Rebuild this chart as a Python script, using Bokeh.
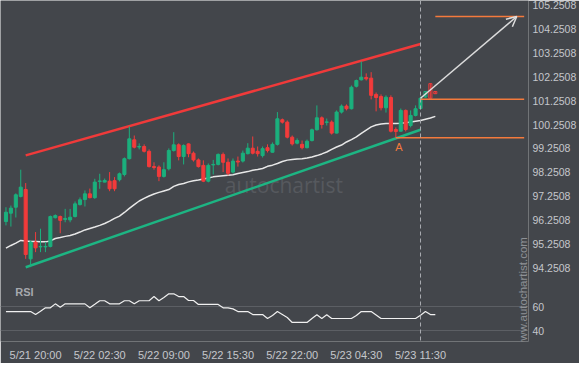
import math
from bokeh.plotting import figure
from bokeh.models import Range1d, FixedTicker, Span, Arrow, OpenHead
from bokeh.core.properties import value
from bokeh.embed import file_html
from bokeh.resources import INLINE

# ---------------- data ----------------
candle_open = [96.19, 96.54, 96.79, 97.24, 97.53, 94.63, 95.33, 95.13, 95.13, 95.15,
               96.35, 96.40, 96.28, 96.26, 96.40, 96.90, 97.11, 97.35, 97.19, 97.87,
               97.84, 97.88, 97.90, 97.94, 98.16, 98.82, 99.61, 99.31, 99.33, 99.13,
               98.49, 98.47, 98.08, 98.40, 99.16, 99.40, 98.91, 99.44, 99.05, 98.77,
               98.54, 97.88, 98.56, 98.58, 99.00, 98.67, 98.26, 98.72, 98.72, 99.03,
               99.26, 99.13, 98.95, 99.28, 99.09, 99.42, 100.45, 100.35, 99.72, 99.47,
               99.42, 99.28, 99.58, 100.03, 100.53, 100.34, 100.35, 99.89, 100.77, 101.02,
               100.91, 101.85, 102.12, 102.22, 102.19, 101.51, 101.42, 100.95, 101.38, 100.04,
               99.97, 100.84, 100.21, 100.63, 100.92]
candle_close = [96.58, 96.75, 97.31, 97.63, 94.81, 95.33, 95.09, 95.15, 95.15, 96.40,
                96.44, 96.24, 96.32, 96.37, 96.93, 97.10, 97.35, 97.19, 97.84, 97.89,
                97.91, 97.56, 97.56, 98.19, 98.82, 99.65, 99.30, 99.33, 99.13, 98.49,
                98.45, 98.08, 98.36, 99.16, 99.40, 98.91, 99.37, 99.03, 98.77, 98.49,
                97.88, 98.54, 98.58, 99.00, 98.67, 98.21, 98.72, 98.68, 99.05, 99.26,
                99.05, 99.03, 99.24, 99.16, 99.42, 100.49, 100.35, 99.72, 99.44, 99.58,
                99.28, 99.55, 100.03, 100.53, 100.25, 100.36, 99.89, 100.77, 101.02, 100.91,
                101.81, 102.09, 102.23, 102.16, 101.47, 101.38, 100.95, 101.39, 99.97, 99.96,
                100.84, 100.04, 100.63, 100.91, 101.35]
candle_high = [96.79, 96.86, 97.37, 98.36, 97.80, 95.40, 95.75, 95.89, 95.33, 96.44,
               96.49, 96.44, 96.72, 96.72, 97.03, 97.20, 97.49, 97.57, 97.98, 98.19,
               97.99, 98.26, 98.05, 98.24, 98.87, 100.17, 99.79, 99.46, 99.42, 99.21,
               98.67, 98.54, 98.67, 99.25, 99.93, 99.46, 99.42, 99.46, 99.12, 98.83,
               98.75, 98.62, 98.77, 99.04, 99.08, 98.83, 98.83, 98.91, 99.16, 99.47,
               99.75, 99.33, 99.33, 99.42, 99.50, 100.77, 100.50, 100.42, 99.79, 99.67,
               99.58, 99.62, 100.08, 101.05, 100.59, 100.50, 100.42, 100.84, 101.09, 101.09,
               101.88, 102.13, 102.89, 102.39, 102.44, 101.59, 101.51, 101.47, 101.47, 100.13,
               100.92, 100.88, 100.84, 101.05, 101.42]
candle_low = [96.03, 95.98, 96.36, 97.20, 94.63, 94.28, 94.91, 94.91, 94.91, 95.11,
              96.32, 95.70, 96.16, 96.16, 96.36, 96.86, 96.82, 97.16, 97.14, 97.56,
              97.83, 97.46, 97.46, 97.87, 98.08, 98.79, 99.25, 99.21, 99.08, 98.45,
              98.36, 97.88, 98.03, 98.33, 99.12, 98.75, 98.58, 98.88, 98.70, 98.45,
              97.84, 97.83, 98.16, 98.54, 98.26, 98.12, 98.20, 98.49, 98.66, 99.00,
              99.00, 98.91, 98.87, 99.08, 99.08, 99.37, 100.29, 99.67, 99.37, 99.42,
              99.21, 99.25, 99.54, 100.00, 100.08, 100.21, 99.83, 99.88, 100.71, 100.84,
              100.88, 101.80, 102.09, 102.09, 101.30, 100.80, 100.84, 100.75, 99.92, 99.70,
              99.96, 99.96, 100.13, 100.59, 100.88]

# candles drawn hollow after the pattern (bars 85-87)
hollow_index = [85, 86, 87]
hollow_open = [101.40, 101.96, 101.63]
hollow_close = [101.63, 101.35, 101.54]
hollow_high = [101.63, 101.97, 101.63]
hollow_low = [101.38, 101.34, 101.54]

moving_avg = [95.08, 95.19, 95.29, 95.40, 95.38, 95.36, 95.36, 95.34, 95.34, 95.38,
              95.48, 95.52, 95.57, 95.61, 95.67, 95.75, 95.84, 95.90, 95.96, 96.03,
              96.11, 96.21, 96.32, 96.42, 96.57, 96.74, 96.90, 97.05, 97.16, 97.26,
              97.34, 97.41, 97.47, 97.53, 97.66, 97.74, 97.78, 97.85, 97.90, 97.93,
              97.97, 98.01, 98.06, 98.09, 98.11, 98.13, 98.15, 98.20, 98.24, 98.28,
              98.34, 98.37, 98.41, 98.50, 98.55, 98.62, 98.70, 98.76, 98.79, 98.81,
              98.82, 98.85, 98.89, 98.95, 99.02, 99.10, 99.21, 99.31, 99.39, 99.52,
              99.62, 99.73, 99.88, 100.02, 100.15, 100.23, 100.27, 100.29, 100.29, 100.29,
              100.30, 100.32, 100.36, 100.39, 100.42, 100.47, 100.52, 100.59]

rsi_values = [55.8, 55.8, 55.8, 55.8, 55.8, 55.8, 53.3, 56.1, 58.9, 58.9,
              62.2, 59.4, 62.2, 62.2, 62.2, 62.2, 62.2, 58.9, 61.8, 64.8,
              64.8, 62.2, 62.2, 62.2, 64.8, 64.8, 62.2, 64.8, 64.8, 64.8,
              68.3, 64.8, 67.5, 70.6, 70.6, 68.3, 68.3, 65.0, 65.0, 61.7,
              61.7, 61.7, 61.7, 61.7, 58.9, 58.9, 58.0, 55.8, 55.8, 55.8,
              53.3, 53.3, 53.3, 50.0, 52.5, 55.8, 53.3, 50.8, 46.7, 46.7,
              46.7, 46.7, 50.0, 53.1, 50.0, 53.1, 50.0, 50.0, 50.0, 50.0,
              50.0, 52.5, 55.8, 55.8, 55.8, 52.9, 50.0, 50.0, 50.0, 50.0,
              50.0, 50.0, 50.0, 50.0, 52.7, 55.8, 53.3, 53.3]
rsi_levels = [60, 40]

time_tick_index = [6, 19, 32, 45, 58, 71, 84]
time_tick_labels = ["5/21 20:00", "5/22 02:30", "5/22 09:00", "5/22 15:30",
                    "5/22 22:00", "5/23 04:30", "5/23 11:30"]
price_ticks = [94.2508, 95.2508, 96.2508, 97.2508, 98.2508, 99.2508,
               100.2508, 101.2508, 102.2508, 103.2508, 104.2508, 105.2508]

# channel (trend lines)
channel_index = [4, 84]
upper_channel = [98.96, 103.62]
lower_channel = [94.28, 100.03]

# pattern levels and forecast
point_a_index = 79
point_a_level = 99.70
breakout_index = 84
breakout_level = 101.31
target_start_index = 87
target_level = 104.77
forecast_end_index = 103.5
level_end_index = 105

# ---------------- style / layout ----------------
BG = "#43464b"
GREEN = "#1bb07d"
RED = "#f23b3b"
ORANGE = "#f47a3c"
LABEL = "#c5c7cb"
FONT = "Liberation Sans"

FRAME_W, FRAME_H = 528, 341
PX_PER_UNIT = 23.9          # price panel scale
TOP_TICK_PX = 4.5           # 105.2508 sits 4.5px below the frame top
price_top = 105.2508 + TOP_TICK_PX / PX_PER_UNIT
price_bottom = 105.2508 - (FRAME_H - TOP_TICK_PX) / PX_PER_UNIT
RSI_PX = 1.2                # RSI panel scale
RSI60_PX = 306              # RSI 60 sits 306px below the frame top
rsi_top = 60 + RSI60_PX / RSI_PX
rsi_bottom = 60 - (FRAME_H - RSI60_PX) / RSI_PX

p = figure(frame_width=FRAME_W, frame_height=FRAME_H,
           x_range=Range1d(-1.106, 105.88),
           y_range=Range1d(price_bottom, price_top),
           output_backend="svg", toolbar_location=None,
           y_axis_location="right",
           min_border_left=0, min_border_right=0, min_border_top=0, min_border_bottom=0,
           background_fill_color=BG, border_fill_color=BG, outline_line_color=None)
p.extra_y_ranges = {"rsi": Range1d(rsi_bottom, rsi_top)}
p.xgrid.visible = False
p.ygrid.visible = False

# watermark
p.text(x=[56.3], y=[97.70], text=["autochartist"], text_align="center",
       text_baseline="middle", text_font=value("Open Sans"), text_font_size="21px",
       text_color="#56595e")

# RSI grid levels
p.hspan(y=rsi_levels, y_range_name="rsi", line_color="#5c5f64", line_width=1)

# channel lines
p.line(channel_index, upper_channel, line_color="#f03a3a", line_width=2.5)
p.line(channel_index, lower_channel, line_color="#1db583", line_width=2.5)

# moving average
p.line(list(range(len(moving_avg))), moving_avg, line_color="#e8e8e8", line_width=1.5)

# candles
idx = list(range(len(candle_open)))
colors = [GREEN if c >= o else RED for o, c in zip(candle_open, candle_close)]
p.segment(x0=idx, y0=candle_high, x1=idx, y1=candle_low, line_color=colors, line_width=1)
p.vbar(x=idx, width=0.62,
       top=[max(o, c) for o, c in zip(candle_open, candle_close)],
       bottom=[min(o, c) for o, c in zip(candle_open, candle_close)],
       fill_color=colors, line_color=colors, line_width=1)

hcolors = [GREEN if c >= o else RED for o, c in zip(hollow_open, hollow_close)]
p.segment(x0=hollow_index, y0=hollow_high, x1=hollow_index, y1=hollow_low,
          line_color=hcolors, line_width=1)
p.vbar(x=hollow_index, width=0.62,
       top=[max(o, c) for o, c in zip(hollow_open, hollow_close)],
       bottom=[min(o, c) for o, c in zip(hollow_open, hollow_close)],
       fill_color=None, line_color=hcolors, line_width=1)

# orange levels
p.segment(x0=[point_a_index, breakout_index, target_start_index],
          y0=[point_a_level, breakout_level, target_level],
          x1=[level_end_index] * 3,
          y1=[point_a_level, breakout_level, target_level],
          line_color=ORANGE, line_width=1.5)
p.text(x=[point_a_index], y=[point_a_level], text=["A"], x_offset=3, y_offset=3,
       text_align="center", text_baseline="top", text_color=ORANGE,
       text_font=value(FONT), text_font_size="11px")

# forecast arrow
p.add_layout(Arrow(end=OpenHead(size=10, line_color="#dcdcdc", line_width=1.5),
                   x_start=breakout_index, y_start=candle_close[breakout_index],
                   x_end=forecast_end_index, y_end=target_level,
                   line_color="#dcdcdc", line_width=1.5))

# current time marker
p.add_layout(Span(location=breakout_index, dimension="height", line_color="#a9acb1",
                  line_width=1, line_dash="4 3"))

# RSI line and caption
p.line(list(range(len(rsi_values))), rsi_values, y_range_name="rsi",
       line_color="#f0f0f0", line_width=1.2)
p.text(x=[1.9], y=[71.9], y_range_name="rsi", text=["RSI"], text_align="left",
       text_baseline="middle", text_font=value(FONT), text_font_size="11px",
       text_font_style="bold", text_color="#a6a9ae")

# vertical site mark
p.text(x=[104.67], y=[93.20], text=["www.autochartist.com"], angle=math.pi / 2,
       text_align="center", text_baseline="middle", text_font=value(FONT),
       text_font_size="11.5px", text_color="#8e9196")

# axes
yax = p.yaxis[0]
rsi_tick_pos = [price_bottom + (r - rsi_bottom) / (rsi_top - rsi_bottom) * (price_top - price_bottom)
                for r in rsi_levels]
yax.ticker = FixedTicker(ticks=price_ticks + rsi_tick_pos)
overrides = {t: f"{t:.4f}" for t in price_ticks}
for pos, r in zip(rsi_tick_pos, rsi_levels):
    overrides[pos] = str(r)
yax.major_label_overrides = overrides
yax.axis_line_color = None
yax.major_tick_line_color = None
yax.minor_tick_line_color = None
yax.major_tick_out = 0
yax.major_tick_in = 0
yax.major_label_standoff = 4
yax.major_label_text_color = LABEL
yax.major_label_text_font = FONT
yax.major_label_text_font_size = "10.5px"

xax = p.xaxis[0]
xax.ticker = FixedTicker(ticks=time_tick_index)
xax.major_label_overrides = {i: s for i, s in zip(time_tick_index, time_tick_labels)}
xax.axis_line_color = None
xax.major_tick_line_color = None
xax.minor_tick_line_color = None
xax.major_tick_out = 0
xax.major_tick_in = 0
xax.major_label_standoff = 7
xax.major_label_text_color = LABEL
xax.major_label_text_font = FONT
xax.major_label_text_font_size = "11px"

open("out.html", "w").write(file_html(p, INLINE))
